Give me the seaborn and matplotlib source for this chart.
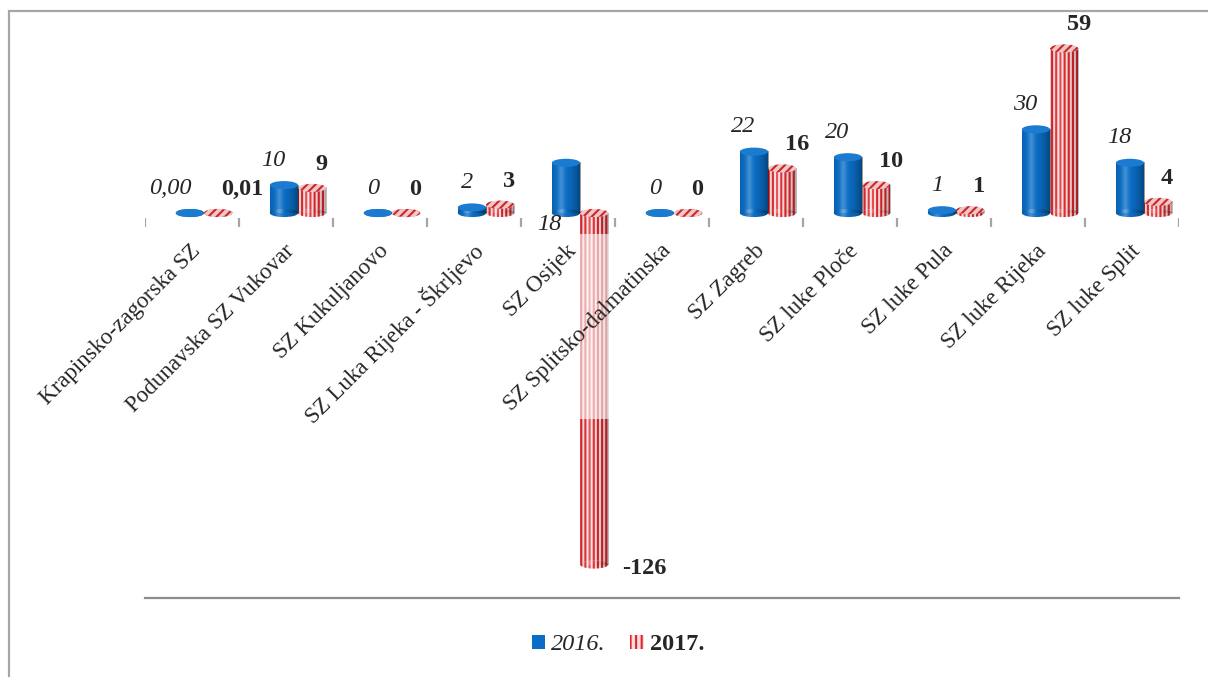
import numpy as np
import pandas as pd
import matplotlib
matplotlib.use("Agg")
import matplotlib.pyplot as plt
import seaborn as sns
from matplotlib.patches import Ellipse, Patch, Rectangle

# ---------------- data ----------------
CATEGORIES = [
    "Krapinsko-zagorska SZ",
    "Podunavska SZ Vukovar",
    "SZ Kukuljanovo",
    "SZ Luka Rijeka - Škrljevo",
    "SZ Osijek",
    "SZ Splitsko-dalmatinska",
    "SZ Zagreb",
    "SZ luke Ploče",
    "SZ luke Pula",
    "SZ luke Rijeka",
    "SZ luke Split",
]
VALUES_2016 = [0.00, 10, 0, 2, 18, 0, 22, 20, 1, 30, 18]
VALUES_2017 = [0.01, 9, 0, 3, -126, 0, 16, 10, 1, 59, 4]
LABEL_DECIMALS = [2, 0, 0, 0, 0, 0, 0, 0, 0, 0, 0]
SERIES = ["2016.", "2017."]

# ---------------- style ----------------
BLUE = "#0a6ec6"
BLUE_TOP = "#1a7bd0"
PINK = "#f8dcdc"
RED = "#e0242b"
RED_TOP = "#f2c6c6"
GRAY = "#a6a6a6"
DEPTH = 0.128          # 3D depth shift of the bars (category units)
EH = 2.9               # ellipse height (data units)
FS = 17.5
FS_CAT = 16.6

sns.set_theme(style="white")
plt.rcParams["font.family"] = ["Liberation Serif", "DejaVu Serif"]
plt.rcParams["hatch.linewidth"] = 1.5

fig = plt.figure(figsize=(12.08, 6.77), dpi=100)
ax = fig.add_axes([0.12, 0.1167, 0.856, 0.8538])

n = len(CATEGORIES)
df = pd.DataFrame({
    "cat": CATEGORIES * 2,
    "val": VALUES_2016 + VALUES_2017,
    "year": [SERIES[0]] * n + [SERIES[1]] * n,
})
sns.barplot(data=df, x="cat", y="val", hue="year", order=CATEGORIES,
            hue_order=SERIES, palette=[BLUE, PINK], width=0.6,
            errorbar=None, legend=False, saturation=1, ax=ax)


def make_shade(strength):
    t = np.linspace(0, 1, 64)
    dark = strength * np.clip(np.abs(t - 0.35) / 0.65, 0, 1) ** 2
    light = 0.22 * np.exp(-((t - 0.32) / 0.12) ** 2)
    arr = np.zeros((1, 64, 4))
    g = light / (light + dark + 1e-9)
    arr[0, :, 0] = g
    arr[0, :, 1] = g
    arr[0, :, 2] = g
    arr[0, :, 3] = np.clip(light + dark, 0, 1)
    return arr


SHADE_BLUE = make_shade(0.40)
SHADE_RED = make_shade(0.28)


def shade(arr, x0, x1, y0, y1, z, clip=None):
    im = ax.imshow(arr, extent=[x0, x1, y0, y1], aspect="auto",
                   zorder=z, interpolation="bilinear")
    if clip is not None:
        im.set_clip_path(clip)


for si, cont in enumerate(ax.containers):
    is_red = si == 1
    base_z = 2 if is_red else 3
    arr = SHADE_RED if is_red else SHADE_BLUE
    for bar in cont:
        x0 = bar.get_x()
        w = bar.get_width()
        y0 = min(bar.get_y(), bar.get_y() + bar.get_height())
        y1 = max(bar.get_y(), bar.get_y() + bar.get_height())
        cx = x0 + w / 2
        bar.set_linewidth(0)
        bar.set_zorder(base_z)
        if is_red:
            bar.set_facecolor(PINK)
            bar.set_edgecolor(RED)
            bar.set_hatch("||||")
        bot = Ellipse((cx, y0), w, EH, zorder=base_z, lw=0,
                      facecolor=PINK if is_red else BLUE,
                      edgecolor=RED if is_red else BLUE,
                      hatch="||||" if is_red else None)
        ax.add_patch(bot)
        shade(arr, x0, x0 + w, y0 - EH / 2, y0 + EH / 2, base_z + 0.2, clip=bot)
        if y1 - y0 > 0:
            shade(arr, x0, x0 + w, y0, y1, base_z + 0.2)
        top = Ellipse((cx, y1), w, EH, zorder=base_z + 0.4, lw=0,
                      facecolor=RED_TOP if is_red else BLUE_TOP,
                      edgecolor="#c8282c" if is_red else BLUE_TOP,
                      hatch="////" if is_red else None)
        ax.add_patch(top)

# ---------------- data labels ----------------
def fmt(v, d):
    return f"{v:.{d}f}".replace(".", ",")


blue_bars = ax.containers[0]
red_bars = ax.containers[1]
for i in range(n):
    b = blue_bars[i]
    r = red_bars[i]
    bcx = b.get_x() + b.get_width() / 2
    rcx = r.get_x() + r.get_width() / 2
    v16 = VALUES_2016[i]
    v17 = VALUES_2017[i]
    d = LABEL_DECIMALS[i]
    if v17 < 0:
        ax.annotate(fmt(v16, d), xy=(bcx, 0), xytext=(-3, -1),
                    textcoords="offset points", ha="right", va="top",
                    fontsize=FS, fontstyle="italic", zorder=8)
    else:
        ax.annotate(fmt(v16, d), xy=(bcx, v16), xytext=(1, 14),
                    textcoords="offset points", ha="right", va="baseline",
                    fontsize=FS, fontstyle="italic", zorder=8)
    if v17 < 0:
        ax.annotate(fmt(v17, d), xy=(r.get_x() + r.get_width(), v17),
                    xytext=(10, -3), textcoords="offset points",
                    ha="left", va="center", fontsize=FS,
                    fontweight="bold", zorder=8)
    else:
        ax.annotate(fmt(v17, d), xy=(rcx, v17), xytext=(2, 13),
                    textcoords="offset points", ha="left", va="baseline",
                    fontsize=FS, fontweight="bold", zorder=8)

# ---------------- axes decoration ----------------
ax.set_xticks([])
ax.set_yticks([])
ax.set_xlabel("")
ax.set_ylabel("")
for s in ["top", "left", "right"]:
    ax.spines[s].set_visible(False)
ax.spines["bottom"].set_color("#8c8c8c")
ax.spines["bottom"].set_linewidth(1.6)

bounds = np.arange(n + 1) - 0.5 - DEPTH
ax.vlines(bounds, -1.8, -5.0, color=GRAY, lw=1.6, zorder=4)

# category labels
for k, lab in enumerate(CATEGORIES):
    ax.annotate(lab, xy=(k - DEPTH, 0), xytext=(4, -25),
                textcoords="offset points", ha="right", va="center",
                rotation=45, rotation_mode="anchor", fontsize=FS_CAT,
                zorder=7)

# lightened label area over the bars
ax.axhspan(-74, -7.5, color="white", alpha=0.6, lw=0, zorder=5)

ax.set_xlim(-0.5 - DEPTH, n - 0.5 - DEPTH)
ax.set_ylim(-138, 69.2)

# legend
handles = [
    Patch(facecolor=BLUE, edgecolor=BLUE, lw=0),
    Patch(facecolor=PINK, edgecolor=RED, hatch="|||", lw=0),
]
leg = fig.legend(handles, SERIES, loc="center",
                 bbox_to_anchor=(618 / 1208, 1 - 645 / 677), ncol=2,
                 frameon=False, fontsize=FS, handlelength=0.55,
                 handleheight=0.55, handletextpad=0.25, columnspacing=1.0)
leg.get_texts()[0].set_fontstyle("italic")
leg.get_texts()[1].set_fontweight("bold")

# chart frame
fig.add_artist(Rectangle((9 / 1208, -0.05), 1.1, (1 - 11 / 677) + 0.05,
                         transform=fig.transFigure, fill=False,
                         edgecolor=GRAY, lw=1.6, clip_on=False))

fig.savefig("out.png", dpi=100)
